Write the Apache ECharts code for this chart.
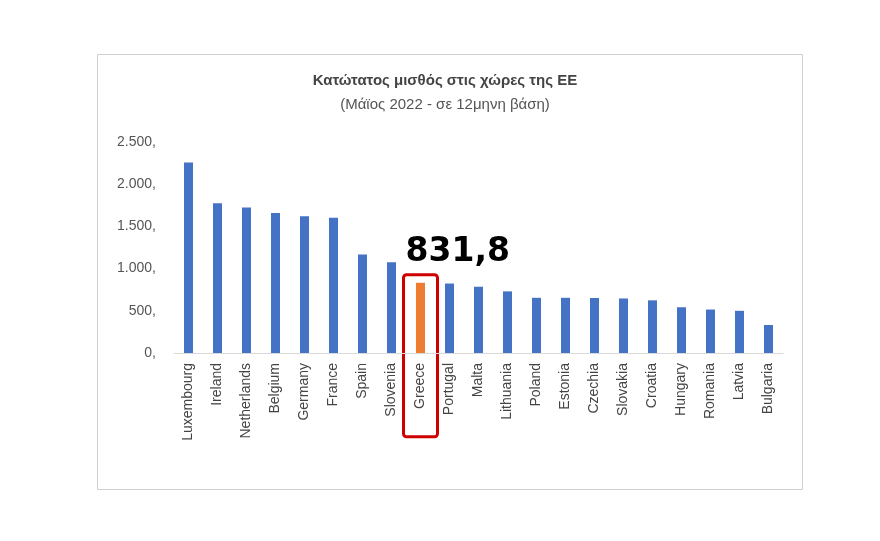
<!DOCTYPE html>
<html><head><meta charset="utf-8">
<script src="https://cdn.jsdelivr.net/npm/echarts@6/dist/echarts.min.js"></script>
<style>html,body{margin:0;background:#fff}#c{width:880px;height:541px}</style>
</head><body><div id="c"></div>
<script>
const countries=["Luxembourg","Ireland","Netherlands","Belgium","Germany","France","Spain","Slovenia","Greece","Portugal","Malta","Lithuania","Poland","Estonia","Czechia","Slovakia","Croatia","Hungary","Romania","Latvia","Bulgaria"];
const wages=[2257,1774,1725,1658,1621,1603,1167,1074,831.8,823,785,730,654,654,652,646,624,542,515,500,332];
const highlight="Greece";
const yTicks=[0,500,1000,1500,2000,2500];
const chart=echarts.init(document.getElementById('c'));
const gi=countries.indexOf(highlight);
chart.setOption({
 animation:false,
 title:{text:"Κατώτατος μισθός στις χώρες της ΕΕ",subtext:"(Μάϊος 2022 - σε 12μηνη βάση)",left:440,textAlign:'center',top:68,itemGap:9,
  textStyle:{fontFamily:'Liberation Sans',fontSize:15,fontWeight:'bold',color:'#444'},
  subtextStyle:{fontFamily:'Liberation Sans',fontSize:15,color:'#555'}},
 grid:{left:174,right:97,top:142,bottom:188},
 xAxis:{type:'category',data:countries,axisTick:{show:false},axisLine:{lineStyle:{color:'#d9d9d9'}},
  axisLabel:{rotate:90,interval:0,fontFamily:'Liberation Sans',fontSize:14,color:'#444',margin:10}},
 yAxis:{type:'value',min:yTicks[0],max:yTicks[yTicks.length-1],interval:500,splitLine:{show:false},
  axisLabel:{fontFamily:'Liberation Sans',fontSize:14,color:'#555',margin:18,formatter:v=>v.toLocaleString('de-DE')+','}},
 series:[{type:'bar',barWidth:9,data:wages.map((v,i)=>({value:v,itemStyle:{color:countries[i]===highlight?'#ed7d31':'#4472c4'}}))}]
});
const pt=chart.convertToPixel({xAxisIndex:0,yAxisIndex:0},[gi,wages[gi]]);
chart.setOption({graphic:[
 {type:'rect',left:95,top:52,shape:{width:705,height:435},style:{fill:'none',stroke:'#d0d0d0',lineWidth:1}},
 {type:'text',x:pt[0]-15,y:pt[1]-14,style:{text:wages[gi].toLocaleString('de-DE'),font:'bold 33px "DejaVu Sans"',fill:'#000',align:'left',verticalAlign:'bottom'}},
 {type:'rect',shape:{x:pt[0]-17,y:pt[1]-8,width:34,height:162,r:3},style:{fill:'none',stroke:'#d00000',lineWidth:3}}
]});
</script></body></html>
